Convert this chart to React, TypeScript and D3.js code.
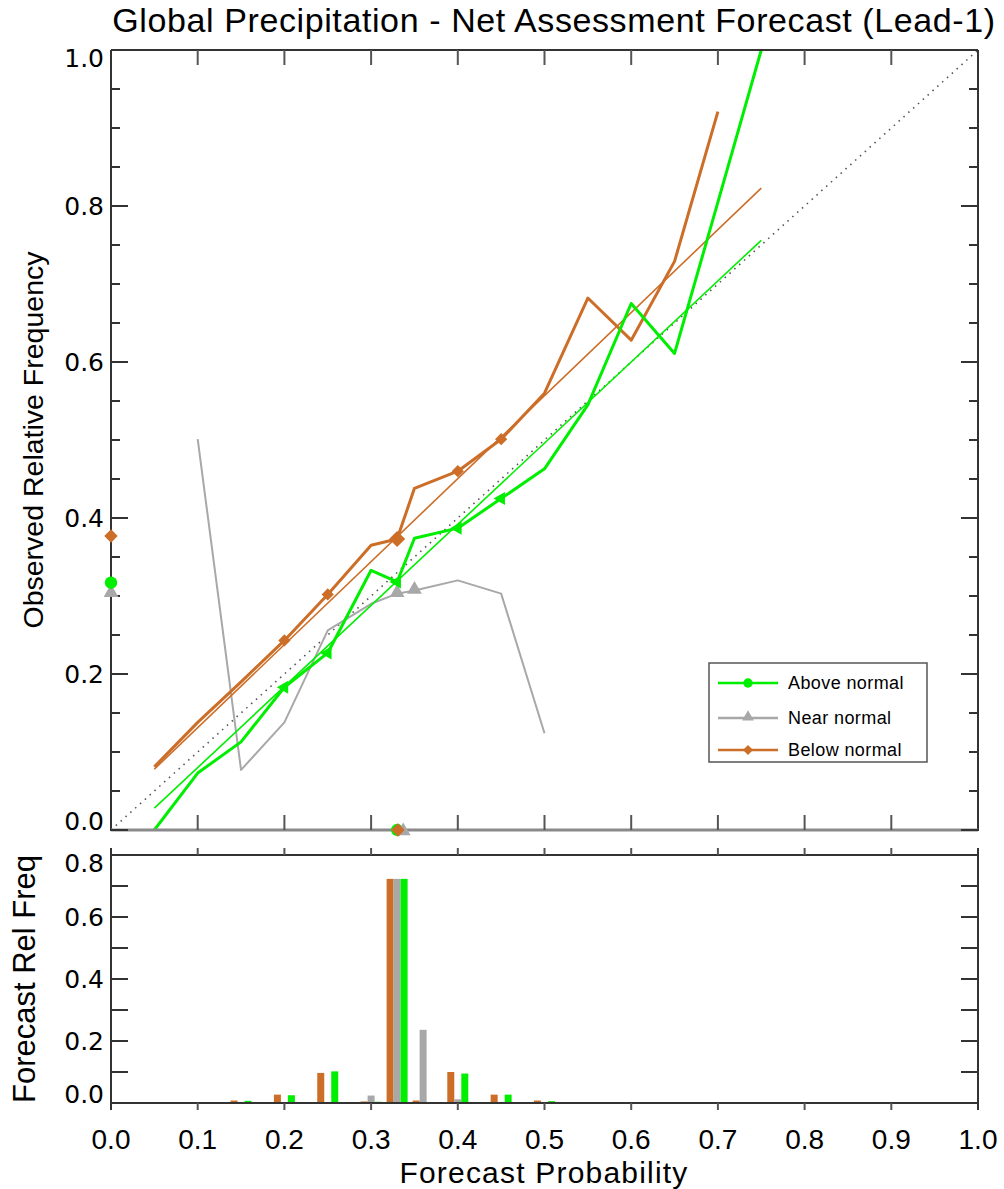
import * as d3 from "d3";
import React from "react";

// reliability diagram data
const probs = [0.05, 0.1, 0.15, 0.2, 0.25, 0.3, 0.33, 0.35, 0.4, 0.45, 0.5, 0.55, 0.6, 0.65, 0.7, 0.75];
const aboveObs = [0.0, 0.073, 0.113, 0.183, 0.227, 0.333, 0.318, 0.374, 0.387, 0.425, 0.463, 0.545, 0.675, 0.611, 0.805, 1.0];
const belowProbs = [0.05, 0.1, 0.15, 0.2, 0.25, 0.3, 0.33, 0.35, 0.4, 0.45, 0.5, 0.55, 0.6, 0.65, 0.7];
const belowObs = [0.081, 0.138, 0.19, 0.243, 0.302, 0.365, 0.373, 0.438, 0.46, 0.501, 0.56, 0.682, 0.628, 0.729, 0.921];
const nearProbs = [0.1, 0.15, 0.2, 0.25, 0.3, 0.33, 0.35, 0.4, 0.45, 0.5];
const nearObs = [0.501, 0.077, 0.138, 0.256, 0.29, 0.303, 0.307, 0.32, 0.303, 0.124];

// points that carry a marker
const aboveMarks = [0.2, 0.25, 0.33, 0.4, 0.45];
const belowMarks = [0.2, 0.25, 0.33, 0.4, 0.45];
const nearMarks = [0.33, 0.35];

// least squares fits (start, end)
const aboveFit = [[0.05, 0.028], [0.75, 0.756]];
const belowFit = [[0.05, 0.078], [0.75, 0.823]];

// climatology (on y axis) and mean forecast (on x axis): above, near, below
const climObs = [0.317, 0.303, 0.377];
const meanFcst = [0.33, 0.337, 0.331];

// forecast relative frequency histogram
const binProbs = [0.05, 0.1, 0.15, 0.2, 0.25, 0.3, 0.33, 0.36, 0.4, 0.45, 0.5, 0.55, 0.6, 0.65, 0.7];
const histBelow = [0.002, 0.002, 0.008, 0.027, 0.097, 0.005, 0.723, 0.008, 0.1, 0.027, 0.008, 0.003, 0.003, 0.002, 0.002];
const histNear = [0, 0, 0, 0, 0, 0.024, 0.723, 0.236, 0.012, 0, 0, 0, 0, 0, 0];
const histAbove = [0, 0.002, 0.007, 0.025, 0.102, 0.004, 0.723, 0.003, 0.095, 0.027, 0.006, 0.003, 0.002, 0.002, 0.002];

const xTicks = d3.range(0, 1.0001, 0.1);
const yTopTicks = [0, 0.2, 0.4, 0.6, 0.8, 1.0];
const yBotTicks = [0, 0.2, 0.4, 0.6, 0.8];

const GREEN = "#00ee00";
const GRAY = "#a8a8a8";
const ORANGE = "#cc6e28";
const AXIS = "#333";

const sans = "'Liberation Sans', Arial, sans-serif";
const wide = "'DejaVu Sans', sans-serif";

const App = () => {
  const width = 1004;
  const height = 1189;

  const x = d3.scaleLinear().domain([0, 1]).range([111, 978]);
  const yTop = d3.scaleLinear().domain([0, 1]).range([830, 50]);
  const yBot = d3.scaleLinear().domain([0, 0.8]).range([1103, 855]);
  const fmt = d3.format(".1f");

  const line = d3
    .line<number[]>()
    .x((d) => x(d[0]))
    .y((d) => yTop(d[1]));

  const zip = (a: number[], b: number[]) => a.map((v, i) => [v, b[i]]);
  const lookup = (a: number[], b: number[], p: number) => b[a.indexOf(p)];

  const square = (s: number) => d3.symbol().type(d3.symbolSquare).size(s)() as string;
  const tri = (s: number) => d3.symbol().type(d3.symbolTriangle).size(s)() as string;
  const circ = (s: number) => d3.symbol().type(d3.symbolCircle).size(s)() as string;

  const diamond = (cx: number, cy: number, s: number, key: string) => (
    <path key={key} d={square(s)} transform={`translate(${cx},${cy}) rotate(45)`} fill={ORANGE} />
  );
  const grayTri = (cx: number, cy: number, key: string) => (
    <path key={key} d={tri(95)} transform={`translate(${cx},${cy - 1})`} fill={GRAY} />
  );
  const greenTri = (cx: number, cy: number, key: string) => (
    <path key={key} d={tri(75)} transform={`translate(${cx},${cy}) rotate(-90)`} fill={GREEN} />
  );

  const yMinor = d3.range(0, 1.0001, 0.05);
  const yBotMinor = d3.range(0, 0.8001, 0.1);
  const barW = 7;

  const edgeDy = (v: number, lo: number, hi: number) => (v === lo ? -9 : v === hi ? 8 : 0);

  return (
    <svg width={width} height={height} style={{ position: "absolute", left: 0, top: 0, background: "#fff" }}>
      <rect width={width} height={height} fill="#fff" />

      <text x={554} y={32} textAnchor="middle" fontFamily={sans} fontSize={34} letterSpacing={0.6} fill="#000">
        Global Precipitation - Net Assessment Forecast (Lead-1)
      </text>

      {/* ---------- reliability panel ---------- */}
      <defs>
        <clipPath id="clipTop">
          <rect x={111} y={50} width={867} height={780} />
        </clipPath>
      </defs>

      {/* perfect reliability diagonal */}
      <line x1={x(0)} y1={yTop(0)} x2={x(1)} y2={yTop(1)} stroke="#555" strokeWidth={1.6} strokeDasharray="1.5,5" />

      <g clipPath="url(#clipTop)" fill="none" strokeLinejoin="round">
        <path d={line(zip(nearProbs, nearObs)) as string} stroke={GRAY} strokeWidth={2} />
        <path d={line(belowFit) as string} stroke={ORANGE} strokeWidth={1.6} />
        <path d={line(aboveFit) as string} stroke={GREEN} strokeWidth={1.6} />
        <path d={line(zip(belowProbs, belowObs)) as string} stroke={ORANGE} strokeWidth={3} />
        <path d={line(zip(probs, aboveObs)) as string} stroke={GREEN} strokeWidth={3} />
      </g>

      {nearMarks.map((p) => grayTri(x(p), yTop(lookup(nearProbs, nearObs, p)), "n" + p))}
      {belowMarks.map((p) =>
        diamond(x(p), yTop(lookup(belowProbs, belowObs, p)), p === 0.33 ? 130 : 75, "b" + p)
      )}
      {aboveMarks.map((p) => greenTri(x(p), yTop(lookup(probs, aboveObs, p)), "a" + p))}

      {/* axes frame */}
      <line x1={111} y1={50} x2={978} y2={50} stroke={AXIS} strokeWidth={2} />
      <line x1={111} y1={50} x2={111} y2={831} stroke={AXIS} strokeWidth={2} />
      <line x1={978} y1={50} x2={978} y2={831} stroke={AXIS} strokeWidth={2} />
      <line x1={111} y1={830} x2={978} y2={830} stroke="#8a8a8a" strokeWidth={3} />
      {xTicks.slice(1, -1).map((t) => (
        <g key={"xt" + t} stroke="#555" strokeWidth={2}>
          <line x1={x(t)} x2={x(t)} y1={50} y2={65} />
          <line x1={x(t)} x2={x(t)} y1={830} y2={815} />
        </g>
      ))}
      {yMinor.map((t, i) => {
        const len = i % 4 === 0 ? 17 : 9;
        return (
          <g key={"ym" + i} stroke={AXIS} strokeWidth={2}>
            <line x1={111} x2={111 + len} y1={yTop(t)} y2={yTop(t)} />
            <line x1={978} x2={978 - len} y1={yTop(t)} y2={yTop(t)} />
          </g>
        );
      })}
      {yTopTicks.map((t) => (
        <text
          key={"yl" + t}
          x={104}
          y={yTop(t) + edgeDy(t, 0, 1)}
          dy="0.36em"
          textAnchor="end"
          fontFamily={wide}
          fontSize={25}
          fill="#000"
        >
          {fmt(t)}
        </text>
      ))}
      <text
        transform={`translate(43,440) rotate(-90)`}
        textAnchor="middle"
        fontFamily={sans}
        fontSize={28.5}
        fill="#000"
      >
        Observed Relative Frequency
      </text>

      {/* climatology and mean forecast markers */}
      {grayTri(x(0), yTop(climObs[1]), "cn")}
      <path d={circ(120)} transform={`translate(${x(0)},${yTop(climObs[0])})`} fill={GREEN} />
      {diamond(x(0), yTop(climObs[2]), 90, "cb")}
      <path d={circ(120)} transform={`translate(${x(meanFcst[0])},${yTop(0)})`} fill={GREEN} />
      {grayTri(x(meanFcst[1]), yTop(0) + 2, "mn")}
      {diamond(x(meanFcst[2]), yTop(0), 90, "mb")}

      {/* legend */}
      <g>
        <rect x={709} y={663} width={218} height={99} fill="#fff" stroke="#555" strokeWidth={1.5} />
        {[
          { label: "Above normal", color: GREEN, y: 683 },
          { label: "Near normal", color: GRAY, y: 718 },
          { label: "Below normal", color: ORANGE, y: 750 },
        ].map((d, i) => (
          <g key={d.label}>
            <line x1={718} x2={778} y1={d.y} y2={d.y} stroke={d.color} strokeWidth={2.5} />
            {i === 0 && <path d={circ(70)} transform={`translate(748,${d.y})`} fill={GREEN} />}
            {i === 1 && <path d={tri(60)} transform={`translate(748,${d.y - 1})`} fill={GRAY} />}
            {i === 2 && <path d={square(50)} transform={`translate(748,${d.y}) rotate(45)`} fill={ORANGE} />}
            <text x={788} y={d.y} dy="0.36em" fontFamily={sans} fontSize={18} letterSpacing={0.4} fill="#000">
              {d.label}
            </text>
          </g>
        ))}
      </g>

      {/* ---------- histogram panel ---------- */}
      {binProbs.map((p, i) => (
        <g key={"bin" + p}>
          {histBelow[i] > 0 && (
            <rect x={x(p) - barW * 1.5} y={yBot(histBelow[i])} width={barW} height={yBot(0) - yBot(histBelow[i])} fill={ORANGE} />
          )}
          {histNear[i] > 0 && (
            <rect x={x(p) - barW * 0.5} y={yBot(histNear[i])} width={barW} height={yBot(0) - yBot(histNear[i])} fill={GRAY} />
          )}
          {histAbove[i] > 0 && (
            <rect x={x(p) + barW * 0.5} y={yBot(histAbove[i])} width={barW} height={yBot(0) - yBot(histAbove[i])} fill={GREEN} />
          )}
        </g>
      ))}
      <line x1={111} y1={855} x2={978} y2={855} stroke={AXIS} strokeWidth={2} />
      <line x1={111} y1={1103} x2={978} y2={1103} stroke={AXIS} strokeWidth={2} />
      <line x1={111} y1={848} x2={111} y2={1110} stroke={AXIS} strokeWidth={2} />
      <line x1={978} y1={848} x2={978} y2={1110} stroke={AXIS} strokeWidth={2} />
      {xTicks.slice(1, -1).map((t) => (
        <g key={"bxt" + t} stroke="#555" strokeWidth={2}>
          <line x1={x(t)} x2={x(t)} y1={855} y2={848} />
          <line x1={x(t)} x2={x(t)} y1={1103} y2={1110} />
        </g>
      ))}
      {yBotMinor.map((t, i) => (
        <g key={"bym" + i} stroke={AXIS} strokeWidth={2}>
          <line x1={111} x2={128} y1={yBot(t)} y2={yBot(t)} />
          <line x1={978} x2={961} y1={yBot(t)} y2={yBot(t)} />
        </g>
      ))}
      {yBotTicks.map((t) => (
        <text
          key={"byl" + t}
          x={104}
          y={yBot(t) + edgeDy(t, 0, 0.8)}
          dy="0.36em"
          textAnchor="end"
          fontFamily={wide}
          fontSize={25}
          fill="#000"
        >
          {fmt(t)}
        </text>
      ))}
      <text
        transform={`translate(35,979) rotate(-90)`}
        textAnchor="middle"
        fontFamily={sans}
        fontSize={31}
        fill="#000"
      >
        Forecast Rel Freq
      </text>

      {xTicks.map((t) => (
        <text key={"xl" + t} x={x(t)} y={1149} textAnchor="middle" fontFamily={sans} fontSize={28} fill="#000">
          {fmt(t)}
        </text>
      ))}
      <text x={544} y={1183} textAnchor="middle" fontFamily={sans} fontSize={30} letterSpacing={1.2} fill="#000">
        Forecast Probability
      </text>
    </svg>
  );
};

export default App;
